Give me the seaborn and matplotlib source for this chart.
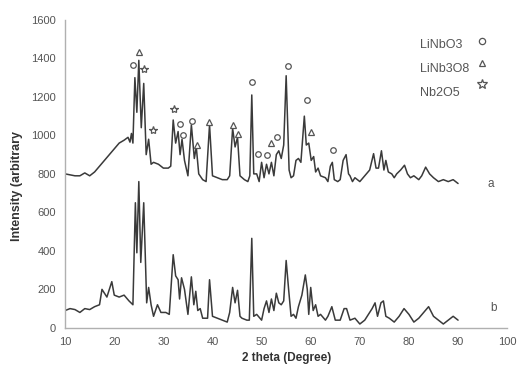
import matplotlib
matplotlib.use("Agg")
import matplotlib.pyplot as plt
import seaborn as sns
import pandas as pd

# XRD pattern, sample a (top trace)
theta_a = [10, 11, 12, 13, 14, 15, 16, 17, 18, 19, 20, 21, 22, 22.8, 23.2, 23.5, 23.8,
           24.2, 24.6, 25.0, 25.5, 26.0, 26.5, 27.0, 27.5, 28, 29, 30, 31, 31.5,
           32.0, 32.5, 33.0, 33.4, 33.8, 34.3, 35.0, 35.7, 36.3, 36.7, 37.2, 38, 38.7,
           39.4, 40, 41, 42, 43, 43.5, 44.1, 44.6, 45.1, 45.6, 46.5, 47.2, 47.6,
           48.0, 48.4, 49, 49.5, 50, 50.5, 51, 51.5, 52, 52.5, 53, 53.5, 54, 54.5,
           55.0, 55.6, 56, 56.5, 57, 57.5, 58, 58.7, 59.1, 59.6, 60.1, 60.6, 61, 61.5,
           62, 63, 63.5, 64, 64.4, 64.8, 65.5, 66, 66.6, 67.2, 67.7, 68, 68.5, 69, 70,
           71, 72, 72.8, 73.3, 73.8, 74.4, 74.9, 75.3, 75.8, 76.5, 77, 77.5, 78.3, 79.1,
           79.7, 80.3, 81, 82, 82.6, 83.4, 84.2, 85, 86, 87, 88, 89, 90]
int_a = [800, 795, 790, 790, 805, 790, 810, 840, 870, 900, 930, 960, 975, 990, 965, 1010, 960,
         1300, 1120, 1390, 1040, 1270, 900, 980, 850, 860, 850, 830, 830, 840,
         1080, 960, 1020, 900, 980, 870, 790, 1055, 880, 940, 800, 770, 760,
         1055, 790, 780, 770, 770, 790, 1037, 940, 990, 790, 770, 760, 790,
         1210, 800, 800, 760, 860, 780, 850, 800, 860, 790, 900, 920, 880, 950,
         1310, 820, 780, 790, 870, 880, 860, 1100, 950, 960, 870, 890, 810, 830,
         790, 780, 760, 840, 860, 770, 760, 770, 870, 900, 800, 790, 760, 780, 760,
         790, 820, 905, 830, 830, 920, 820, 870, 810, 800, 780, 800, 820, 845,
         800, 780, 790, 770, 790, 835, 800, 780, 760, 770, 760, 770, 750]

# XRD pattern, sample b (bottom trace)
theta_b = [10, 11, 12, 13, 14, 15, 16, 17, 17.5, 18.5, 19.5, 20, 21, 22, 23, 23.8,
           24.3, 24.6, 25.0, 25.4, 26.0, 26.6, 27.0, 27.5, 28, 28.8, 29.5, 30.5, 31.2,
           32.0, 32.5, 33.0, 33.3, 33.7, 34.3, 35.0, 35.7, 36.2, 36.6, 37, 37.5, 38, 39,
           39.4, 40, 41, 42, 43, 43.5, 44.1, 44.6, 45.1, 45.6, 46, 47, 47.5,
           48.0, 48.4, 49, 50, 50.5, 51, 51.5, 52, 52.5, 53, 53.5, 54, 54.5,
           55.0, 55.5, 56, 56.5, 57, 57.5, 58.2, 58.9, 59.3, 59.6, 60.0, 60.5, 61, 61.5,
           62, 63, 63.5, 64.3, 65, 66, 66.8, 67.3, 68, 69, 70, 71, 72, 72.5,
           73.1, 73.6, 74.3, 74.8, 75.3, 76, 77, 78, 79, 80, 81, 82, 83, 84, 85,
           86, 87, 88, 89, 90]
int_b = [90, 100, 95, 80, 100, 95, 110, 120, 200, 160, 240, 170, 160, 170, 140, 120,
         650, 390, 760, 340, 650, 130, 210, 120, 60, 120, 80, 80, 70,
         380, 270, 250, 150, 260, 200, 70, 265, 120, 190, 90, 100, 50, 50,
         250, 60, 50, 40, 30, 80, 210, 130, 195, 60, 50, 40, 40,
         465, 60, 70, 40, 100, 140, 80, 150, 90, 180, 130, 120, 140,
         350, 200, 60, 70, 50, 110, 170, 275, 200, 70, 210, 90, 120, 60,
         70, 40, 60, 110, 40, 40, 100, 100, 40, 50, 20, 40, 80, 100,
         130, 60, 130, 140, 60, 50, 30, 60, 100, 70, 30, 50, 80, 110, 60,
         40, 20, 40, 60, 40]

# phase markers above the peaks of trace a
lin_x = [23.9, 33.4, 34.0, 35.9, 48.0, 49.3, 51.1, 53.2, 55.3, 59.3, 64.6]
lin_y = [1366, 1060, 1003, 1077, 1276, 905, 900, 994, 1361, 1184, 925]
lin3_x = [25.1, 36.8, 39.3, 44.1, 45.1, 51.9, 60.1]
lin3_y = [1435, 951, 1072, 1055, 1006, 960, 1020]
nb_x = [26.1, 27.9, 32.2]
nb_y = [1345, 1029, 1137]

phases = ["LiNbO3", "LiNb3O8", "Nb2O5"]
yticks = [0, 200, 400, 600, 800, 1000, 1200, 1400, 1600]
xticks = [10, 20, 30, 40, 50, 60, 70, 80, 90, 100]

sns.set_style("white")
plt.rcParams['font.family'] = ['Liberation Sans', 'DejaVu Sans']

df_a = pd.DataFrame({'theta': theta_a, 'I': int_a})
df_b = pd.DataFrame({'theta': theta_b, 'I': int_b})

fig = plt.figure(figsize=(5.17, 3.83), dpi=100)
ax = fig.add_axes([0.126, 0.144, 0.855, 0.804])

sns.lineplot(data=df_a, x='theta', y='I', ax=ax, color='#3a3a3a', linewidth=1.1)
sns.lineplot(data=df_b, x='theta', y='I', ax=ax, color='#3a3a3a', linewidth=1.1)

mk = dict(linestyle='none', color='#555555', markerfacecolor='white', markeredgewidth=0.9)
ax.plot(lin_x, lin_y, marker='o', markersize=4, **mk)
ax.plot(lin3_x, lin3_y, marker='^', markersize=4.5, **mk)
ax.plot(nb_x, nb_y, marker='*', markersize=6, **mk)

# legend made of text + symbol
leg_y = [1470, 1345, 1220]
for name, yy in zip(phases, leg_y):
    ax.text(82.3, yy, name, fontsize=9, color='#555555', va='center', ha='left')
ax.plot([94.8], [1490], marker='o', markersize=4.5, **mk)
ax.plot([94.8], [1375], marker='^', markersize=5, **mk)
ax.plot([94.8], [1265], marker='*', markersize=7, **mk)

ax.text(96.0, 745, 'a', fontsize=8.5, color='#555555', va='center')
ax.text(96.5, 105, 'b', fontsize=8.5, color='#555555', va='center')

ax.set_xlim(10, 100)
ax.set_ylim(0, 1600)
ax.set_xticks(xticks)
ax.set_yticks(yticks)
ax.tick_params(axis='both', labelsize=8, colors='#555555', length=3, width=0.8, direction='out')
for s in ['top', 'right']:
    ax.spines[s].set_visible(False)
for s in ['left', 'bottom']:
    ax.spines[s].set_color('#b0b0b0')
    ax.spines[s].set_linewidth(1.0)
ax.set_xlabel("2 theta (Degree)", fontsize=8.5, fontweight='bold', color='#333333', labelpad=4)
ax.set_ylabel("Intensity (arbitrary", fontsize=9, fontweight='bold', color='#333333')
ax.yaxis.set_label_coords(-0.095, 0.46)

fig.savefig('out.png', dpi=100)
